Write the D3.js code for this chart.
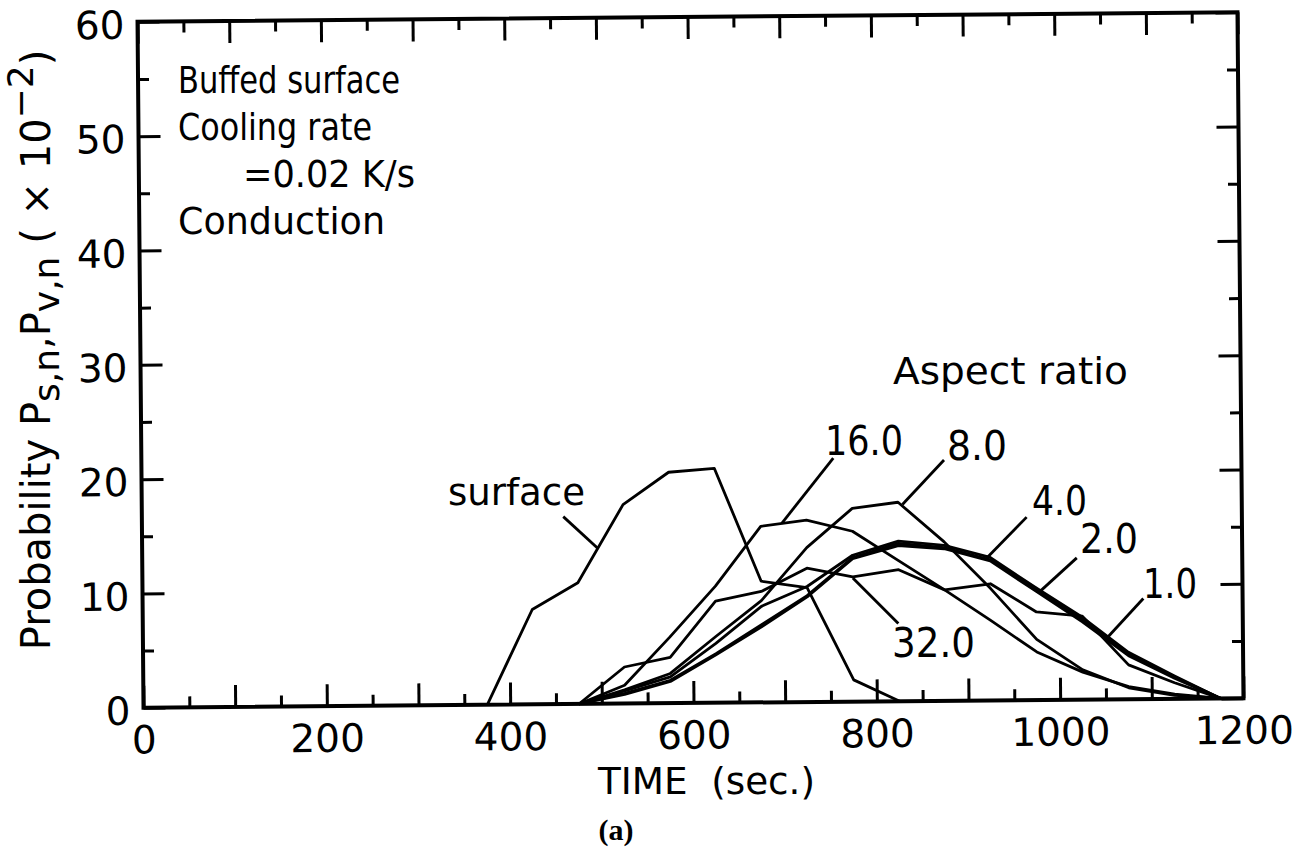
<!DOCTYPE html>
<html>
<head>
<meta charset="utf-8">
<script src="https://cdn.jsdelivr.net/npm/d3@7"></script>
<style>
  body { margin: 0; background: #fff; }
  text { font-family: "DejaVu Sans", sans-serif; fill: #000; }
  .serif { font-family: "Liberation Serif", "DejaVu Serif", serif; font-weight: bold; }
</style>
</head>
<body>
<div id="chart"></div>
<script>
// time (sec.) of the histogram points
var surfaceTime = [375, 425, 475, 525, 575, 625, 675, 725, 775, 825];
var surfaceP    = [0, 8.3, 10.6, 17.4, 20.2, 20.5, 10.6, 10.0, 1.9, 0];

var volumeTime = [475, 525, 575, 625, 675, 725, 775, 825, 875, 925, 975, 1025, 1075, 1125, 1175];
var ratio32 = [0, 3.2, 4.0, 8.9, 9.7, 11.7, 10.9, 11.5, 9.7, 10.2, 7.7, 7.3, 3.0, 1.4, 0];
var ratio16 = [0, 1.6, 5.8, 10.2, 15.4, 15.9, 14.9, 12.3, 9.7, 7.0, 4.2, 2.4, 1.1, 0.4, 0];
var ratio8  = [0, 1.2, 2.6, 5.8, 8.9, 13.5, 16.9, 17.4, 13.9, 9.8, 5.3, 2.6, 1.0, 0.3, 0];
var ratio4  = [0, 1.1, 2.3, 5.2, 8.4, 10.1, 12.8, 14.0, 13.6, 12.5, 9.8, 7.2, 4.1, 2.0, 0];
var ratio2  = [0, 0.9, 2.0, 4.3, 6.8, 9.3, 12.6, 13.8, 13.4, 12.3, 9.6, 7.0, 4.0, 1.9, 0];
var ratio1  = [0, 0.8, 1.9, 4.2, 6.6, 9.2, 12.5, 13.6, 13.3, 12.2, 9.5, 6.8, 3.8, 1.8, 0];

// ticks
var xMajor = [0, 100, 200, 300, 400, 500, 600, 700, 800, 900, 1000, 1100, 1200];
var xMinor = [50, 150, 250, 350, 450, 550, 650, 750, 850, 950, 1050, 1150];
var xLabels = [0, 200, 400, 600, 800, 1000, 1200];
var yMajor = [0, 10, 20, 30, 40, 50, 60];
var yMinor = [5, 15, 25, 35, 45, 55];

// leader lines from the curve labels, in data units [time, P]
var leaders = [
    [[459.7, 16.4], [497, 13.6]],     // surface
    [[754.8, 21.3], [698, 15.65]],    // 16.0
    [[875.6, 21.06], [829.8, 17.2]],  // 8.0
    [[965.2, 16.0], [919.4, 12.3]],   // 4.0
    [[1019.5, 12.4], [979.1, 9.5]],   // 2.0
    [[1091.7, 8.8], [1051.4, 5.35]],  // 1.0
    [[824.2, 6.8], [775, 10.8]]       // 32.0
];

var width = 1100,
    height = 686;

var svg = d3.select("#chart")
    .append("svg")
    .attr("width", 1303)
    .attr("height", 852);

// the scanned figure is turned slightly, so the plot is turned too
var plot = svg.append("g")
    .attr("transform", "rotate(-0.5,690.5,360) translate(140.5,17)");

var x = d3.scaleLinear().domain([0, 1200]).range([0, width]);
var y = d3.scaleLinear().domain([0, 60]).range([height, 0]);

function styleAxis(g) {
    g.select(".domain").remove();
    g.selectAll("line").attr("stroke", "#000").attr("stroke-width", 3);
    g.selectAll("text")
        .attr("font-size", 39)
        .attr("font-family", "DejaVu Sans")
        .attr("fill", "#000");
}

// bottom
plot.append("g").attr("transform", "translate(0," + height + ")")
    .call(d3.axisBottom(x).tickValues(xMajor).tickSizeInner(-22).tickSizeOuter(0).tickPadding(18)
        .tickFormat(function(d) { return xLabels.indexOf(d) >= 0 ? d : ""; }))
    .call(styleAxis);
plot.append("g").attr("transform", "translate(0," + height + ")")
    .call(d3.axisBottom(x).tickValues(xMinor).tickSizeInner(-11).tickSizeOuter(0).tickFormat(""))
    .call(styleAxis);
// top
plot.append("g")
    .call(d3.axisTop(x).tickValues(xMajor).tickSizeInner(-22).tickSizeOuter(0).tickFormat(""))
    .call(styleAxis);
plot.append("g")
    .call(d3.axisTop(x).tickValues(xMinor).tickSizeInner(-11).tickSizeOuter(0).tickFormat(""))
    .call(styleAxis);
// left
plot.append("g")
    .call(d3.axisLeft(y).tickValues(yMajor).tickSizeInner(-22).tickSizeOuter(0).tickPadding(13))
    .call(styleAxis)
    .selectAll("text").attr("dy", "0.42em");
plot.append("g")
    .call(d3.axisLeft(y).tickValues(yMinor).tickSizeInner(-11).tickSizeOuter(0).tickFormat(""))
    .call(styleAxis);
// right
plot.append("g").attr("transform", "translate(" + width + ",0)")
    .call(d3.axisRight(y).tickValues(yMajor).tickSizeInner(-22).tickSizeOuter(0).tickFormat(""))
    .call(styleAxis);
plot.append("g").attr("transform", "translate(" + width + ",0)")
    .call(d3.axisRight(y).tickValues(yMinor).tickSizeInner(-11).tickSizeOuter(0).tickFormat(""))
    .call(styleAxis);

// frame
plot.append("rect")
    .attr("x", 0).attr("y", 0)
    .attr("width", width).attr("height", height)
    .attr("fill", "none")
    .attr("stroke", "#000")
    .attr("stroke-width", 4);

var line = d3.line()
    .x(function(d) { return x(d[0]); })
    .y(function(d) { return y(d[1]); });

var series = [
    { t: surfaceTime, p: surfaceP },
    { t: volumeTime, p: ratio32 },
    { t: volumeTime, p: ratio16 },
    { t: volumeTime, p: ratio8 },
    { t: volumeTime, p: ratio4 },
    { t: volumeTime, p: ratio2 },
    { t: volumeTime, p: ratio1 }
];

plot.append("g")
    .selectAll("path")
    .data(series)
    .enter()
    .append("path")
    .attr("d", function(s) { return line(d3.zip(s.t, s.p)); })
    .attr("fill", "none")
    .attr("stroke", "#000")
    .attr("stroke-width", 2.8)
    .attr("stroke-linejoin", "round");

plot.append("g")
    .selectAll("path")
    .data(leaders)
    .enter()
    .append("path")
    .attr("d", line)
    .attr("fill", "none")
    .attr("stroke", "#000")
    .attr("stroke-width", 2.8);

// texts
function label(str, px, py, size, len) {
    var t = svg.append("text")
        .attr("x", px).attr("y", py)
        .attr("font-size", size)
        .text(str);
    if (len) t.attr("textLength", len).attr("lengthAdjust", "spacingAndGlyphs");
    return t;
}

label("Buffed surface", 178, 93, 38, 222);
label("Cooling rate", 178, 140, 38, 194);
label("=0.02 K/s", 243, 187, 38, 172);
label("Conduction", 178, 234, 38, 207);
label("Aspect ratio", 893, 384, 38, 235);
label("surface", 448, 505, 38, 137);
label("16.0", 825, 455, 40, 78);
label("8.0", 947, 460, 40, 60);
label("4.0", 1032, 515, 40, 55);
label("2.0", 1080, 553, 40, 58);
label("1.0", 1143, 598, 40, 54);
label("32.0", 892, 657, 40, 83);
label("TIME  (sec.)", 598, 794, 38, 217).style("white-space", "pre");

var yl = svg.append("text")
    .attr("transform", "translate(50,350) rotate(-90)")
    .attr("text-anchor", "middle")
    .attr("font-size", 40)
    .style("white-space", "pre");
yl.append("tspan").text("Probability P");
yl.append("tspan").attr("font-size", 36).attr("dy", 9).text("s,n");
yl.append("tspan").attr("dy", -9).text(",P");
yl.append("tspan").attr("font-size", 36).attr("dy", 9).text("v,n");
yl.append("tspan").attr("dy", -9).text(" ( \u00d7 10");
yl.append("tspan").attr("font-size", 36).attr("dy", -17).text("\u22122");
yl.append("tspan").attr("dy", 17).text(")");

svg.append("text")
    .attr("class", "serif")
    .attr("x", 616).attr("y", 840)
    .attr("text-anchor", "middle")
    .attr("font-size", 30)
    .text("(a)");
</script>
</body>
</html>
